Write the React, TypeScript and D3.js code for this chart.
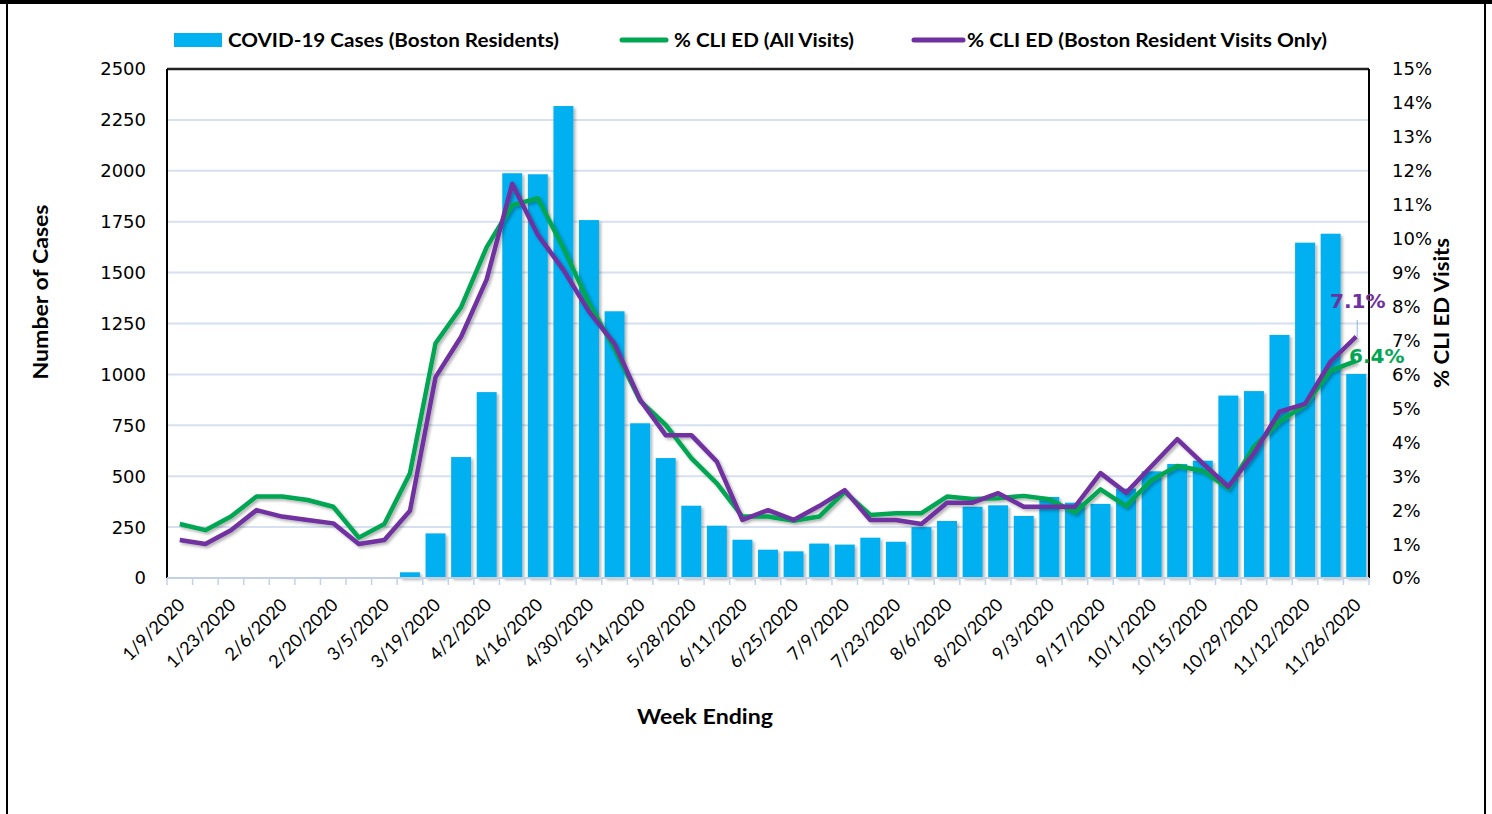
import React from 'react';
import * as d3 from 'd3';

const WIDTH = 1492;
const HEIGHT = 814;
const PLOT = { LEFT: 167, RIGHT: 1369, TOP: 69, BOTTOM: 578 };

const weeks = [
  '1/9/2020', '1/16/2020', '1/23/2020', '1/30/2020', '2/6/2020', '2/13/2020',
  '2/20/2020', '2/27/2020', '3/5/2020', '3/12/2020', '3/19/2020', '3/26/2020',
  '4/2/2020', '4/9/2020', '4/16/2020', '4/23/2020', '4/30/2020', '5/7/2020',
  '5/14/2020', '5/21/2020', '5/28/2020', '6/4/2020', '6/11/2020', '6/18/2020',
  '6/25/2020', '7/2/2020', '7/9/2020', '7/16/2020', '7/23/2020', '7/30/2020',
  '8/6/2020', '8/13/2020', '8/20/2020', '8/27/2020', '9/3/2020', '9/10/2020',
  '9/17/2020', '9/24/2020', '10/1/2020', '10/8/2020', '10/15/2020', '10/22/2020',
  '10/29/2020', '11/5/2020', '11/12/2020', '11/19/2020', '11/26/2020',
];

// weekly COVID-19 cases, Boston residents
const cases = [
  0, 0, 0, 0, 0, 0, 0, 0, 0, 28, 219, 594,
  913, 1988, 1983, 2318, 1758, 1310, 760, 589, 355, 257, 188, 139,
  131, 169, 164, 198, 178, 250, 280, 350, 357, 305, 398, 370,
  364, 439, 524, 560, 576, 896, 918, 1194, 1647, 1691, 1002,
];

// % CLI ED, all visits
const cliAll = [
  1.59, 1.41, 1.81, 2.4, 2.4, 2.3, 2.1, 1.19, 1.59, 3.09, 6.92, 7.98,
  9.75, 10.99, 11.19, 9.72, 8.1, 6.75, 5.22, 4.51, 3.53, 2.79, 1.81, 1.81,
  1.69, 1.81, 2.54, 1.86, 1.91, 1.91, 2.4, 2.33, 2.35, 2.42, 2.32, 1.93,
  2.61, 2.12, 2.89, 3.3, 3.16, 2.64, 3.87, 4.61, 5.1, 6.11, 6.4,
];

// % CLI ED, Boston resident visits only
const cliBoston = [
  1.12, 1.0, 1.41, 2.0, 1.81, 1.71, 1.61, 1.0, 1.12, 1.98, 5.92, 7.11,
  8.8, 11.62, 10.11, 9.08, 7.85, 6.9, 5.25, 4.21, 4.21, 3.43, 1.71, 2.0,
  1.71, 2.12, 2.59, 1.71, 1.71, 1.59, 2.22, 2.22, 2.5, 2.1, 2.1, 2.1,
  3.09, 2.51, 3.3, 4.09, 3.38, 2.69, 3.67, 4.9, 5.13, 6.38, 7.11,
];

const leftTicks = [0, 250, 500, 750, 1000, 1250, 1500, 1750, 2000, 2250, 2500];
const rightTicks = [0, 1, 2, 3, 4, 5, 6, 7, 8, 9, 10, 11, 12, 13, 14, 15];

const BLUE = '#00b0f0';
const GREEN = '#00a651';
const PURPLE = '#7030a0';
const GRID = '#d6e0f0';
const LABEL_FONT = 'Lato, "Open Sans", sans-serif';
const TICK_FONT = '"DejaVu Sans", Verdana, sans-serif';

export default function App() {
  const x = d3.scaleBand<string>().domain(weeks).range([PLOT.LEFT, PLOT.RIGHT]);
  const yCases = d3.scaleLinear().domain([0, 2500]).range([PLOT.BOTTOM, PLOT.TOP]);
  const yPct = d3.scaleLinear().domain([0, 15]).range([PLOT.BOTTOM, PLOT.TOP]);

  const step = x.bandwidth();
  const barW = step * 0.78;
  const cx = (i: number) => (x(weeks[i]) as number) + step / 2;

  const lineAll = d3
    .line<number>()
    .x((_, i) => cx(i))
    .y((d) => yPct(d));

  const last = weeks.length - 1;

  return (
    <svg
      width={WIDTH}
      height={HEIGHT}
      style={{ position: 'absolute', left: 0, top: 0, background: '#fff' }}
    >
      <defs>
        <filter id="shadow" x="-10%" y="-10%" width="130%" height="130%">
          <feDropShadow dx="2" dy="2" stdDeviation="1.5" floodColor="#000" floodOpacity="0.3" />
        </filter>
      </defs>

      {/* page frame */}
      <rect x={0} y={0} width={WIDTH} height={4} fill="#000" />
      <line x1={7} x2={7} y1={0} y2={HEIGHT} stroke="#000" strokeWidth={2} />
      <line x1={1485} x2={1485} y1={0} y2={HEIGHT} stroke="#000" strokeWidth={2} />

      {/* gridlines */}
      {leftTicks.slice(1, -1).map((t) => (
        <line
          key={t}
          x1={PLOT.LEFT}
          x2={PLOT.RIGHT}
          y1={yCases(t)}
          y2={yCases(t)}
          stroke={GRID}
          strokeWidth={2}
        />
      ))}

      {/* bars */}
      <g filter="url(#shadow)">
        {cases.map((v, i) =>
          v > 0 ? (
            <rect
              key={i}
              x={cx(i) - barW / 2}
              y={yCases(v)}
              width={barW}
              height={yCases(0) - yCases(v)}
              fill={BLUE}
            />
          ) : null,
        )}
      </g>

      {/* lines */}
      <g filter="url(#shadow)" fill="none" strokeWidth={4.5} strokeLinejoin="round">
        <path d={lineAll(cliAll) || ''} stroke={GREEN} />
        <path d={lineAll(cliBoston) || ''} stroke={PURPLE} />
      </g>

      {/* plot borders */}
      <line x1={PLOT.LEFT} x2={PLOT.RIGHT} y1={PLOT.TOP} y2={PLOT.TOP} stroke="#222" strokeWidth={2.5} />
      <line x1={PLOT.LEFT} x2={PLOT.LEFT} y1={PLOT.TOP} y2={PLOT.BOTTOM} stroke="#000" strokeWidth={2} />
      <line x1={PLOT.RIGHT} x2={PLOT.RIGHT} y1={PLOT.TOP} y2={PLOT.BOTTOM} stroke="#000" strokeWidth={2} />
      <line x1={PLOT.LEFT} x2={PLOT.RIGHT} y1={PLOT.BOTTOM} y2={PLOT.BOTTOM} stroke="#c3d1e8" strokeWidth={2} />

      {/* x ticks */}
      {weeks.map((w) => (
        <line
          key={w}
          x1={x(w) as number}
          x2={x(w) as number}
          y1={PLOT.BOTTOM}
          y2={PLOT.BOTTOM + 7}
          stroke="#c3d1e8"
          strokeWidth={1.5}
        />
      ))}
      <line x1={PLOT.RIGHT} x2={PLOT.RIGHT} y1={PLOT.BOTTOM} y2={PLOT.BOTTOM + 7} stroke="#c3d1e8" strokeWidth={1.5} />

      {/* x tick labels, every other week */}
      {weeks.map((w, i) =>
        i % 2 === 0 ? (
          <text
            key={w}
            transform={`translate(${cx(i) + 6}, ${PLOT.BOTTOM + 28}) rotate(-45)`}
            textAnchor="end"
            fontFamily={LABEL_FONT}
            fontSize={18}
            fill="#000"
          >
            {w}
          </text>
        ) : null,
      )}

      {/* left axis ticks */}
      {leftTicks.map((t) => (
        <text
          key={t}
          x={146}
          y={yCases(t)}
          dy="0.36em"
          textAnchor="end"
          fontFamily={TICK_FONT}
          fontSize={18}
          fill="#000"
        >
          {t}
        </text>
      ))}

      {/* right axis ticks */}
      {rightTicks.map((t) => (
        <text
          key={t}
          x={1392}
          y={yPct(t)}
          dy="0.36em"
          fontFamily={TICK_FONT}
          fontSize={18}
          fill="#000"
        >
          {`${t}%`}
        </text>
      ))}

      {/* axis titles */}
      <text
        transform="translate(48, 292) rotate(-90)"
        textAnchor="middle"
        fontFamily={LABEL_FONT}
        fontWeight="bold"
        fontSize={20}
        textLength={175}
        lengthAdjust="spacingAndGlyphs"
      >
        Number of Cases
      </text>
      <text
        transform="translate(1449, 313) rotate(-90)"
        textAnchor="middle"
        fontFamily={LABEL_FONT}
        fontWeight="bold"
        fontSize={20}
        textLength={150}
        lengthAdjust="spacingAndGlyphs"
      >
        % CLI ED Visits
      </text>
      <text
        x={705}
        y={724}
        textAnchor="middle"
        fontFamily={LABEL_FONT}
        fontWeight="bold"
        fontSize={20}
        textLength={136}
        lengthAdjust="spacingAndGlyphs"
      >
        Week Ending
      </text>

      {/* end-point labels */}
      <line
        x1={cx(last) + 1}
        x2={cx(last) + 1}
        y1={320}
        y2={yPct(cliBoston[last])}
        stroke="#8db3e2"
        strokeWidth={1}
      />
      <text x={1330} y={308} fontFamily={TICK_FONT} fontWeight="bold" fontSize={20} fill={PURPLE}>
        {`${cliBoston[last].toFixed(1)}%`}
      </text>
      <text x={1349} y={363} fontFamily={TICK_FONT} fontWeight="bold" fontSize={20} fill={GREEN}>
        {`${cliAll[last].toFixed(1)}%`}
      </text>

      {/* legend */}
      <g fontFamily={LABEL_FONT} fontWeight="bold" fontSize={18} fill="#000">
        <rect x={174} y={33} width={48} height={14} fill={BLUE} />
        <text x={228} y={47} textLength={331} lengthAdjust="spacingAndGlyphs">
          COVID-19 Cases (Boston Residents)
        </text>
        <line x1={622} x2={666} y1={40} y2={40} stroke={GREEN} strokeWidth={5} strokeLinecap="round" />
        <text x={674} y={47} textLength={180} lengthAdjust="spacingAndGlyphs">
          % CLI ED (All Visits)
        </text>
        <line x1={914} x2={963} y1={40} y2={40} stroke={PURPLE} strokeWidth={5} strokeLinecap="round" />
        <text x={967} y={47} textLength={360} lengthAdjust="spacingAndGlyphs">
          % CLI ED (Boston Resident Visits Only)
        </text>
      </g>
    </svg>
  );
}
